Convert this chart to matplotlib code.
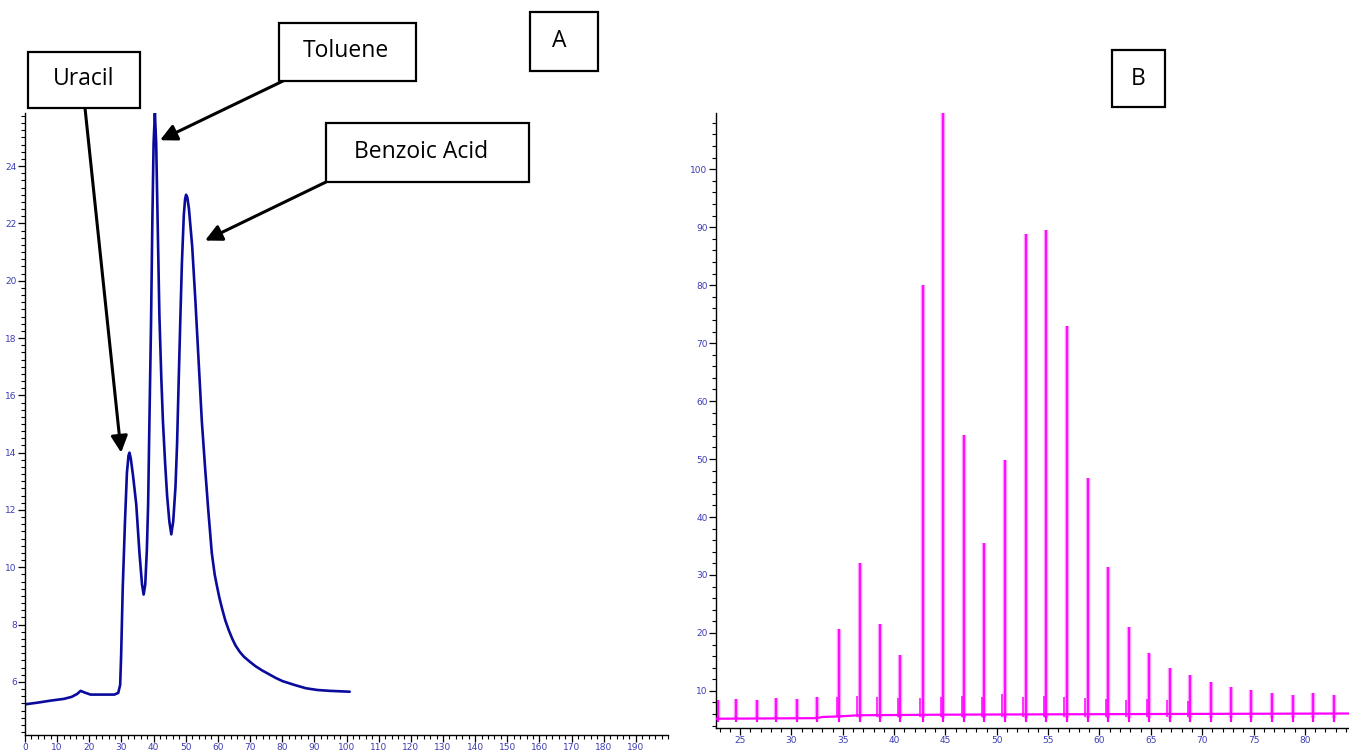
import matplotlib.pyplot as plt
from matplotlib.patches import Rectangle
from matplotlib.ticker import MultipleLocator

W, H = 1349, 756

# --- panel A: chromatogram (time, signal) ---
trace_a_t = [0.0, 4.0, 8.0, 12.1, 14.5, 16.2, 17.3, 18.6, 20.4, 24.0, 27.8, 29.0, 29.6,
             29.9, 30.4, 31.1, 31.7, 32.2, 32.5, 32.9, 33.6, 34.6, 35.6, 36.4, 36.9,
             37.4, 37.9, 38.3, 38.7, 39.2, 39.6, 40.0, 40.4, 40.8, 41.3, 41.8, 42.4,
             42.9, 43.6, 44.2, 44.9, 45.5, 46.1, 46.8, 47.3, 47.8, 48.3, 48.8, 49.4,
             49.8, 50.1, 50.5, 51.0, 52.0, 53.0, 54.0, 55.0, 56.0, 57.0, 58.1, 59.0,
             59.7, 60.5, 61.3, 62.3, 63.4, 64.5, 65.5, 66.8, 68.1, 70.0, 71.7, 73.8,
             75.9, 78.0, 80.1, 83.7, 87.4, 91.0, 94.8, 101.0]
trace_a_y = [5.22, 5.28, 5.35, 5.41, 5.48, 5.58, 5.69, 5.63, 5.56, 5.56, 5.56, 5.62, 5.9,
             6.92, 9.28, 11.6, 13.3, 13.9, 14.0, 13.8, 13.2, 12.2, 10.5, 9.4, 9.05,
             9.4, 10.6, 12.2, 15.1, 18.5, 22.0, 24.8, 25.85, 24.8, 21.8, 18.8, 16.6,
             15.1, 13.6, 12.5, 11.6, 11.15, 11.6, 12.8, 14.3, 16.5, 18.6, 20.6, 22.3,
             22.85, 23.0, 22.9, 22.5, 21.2, 19.3, 17.2, 15.1, 13.5, 12.0, 10.5, 9.75,
             9.35, 8.92, 8.56, 8.15, 7.8, 7.5, 7.27, 7.05, 6.88, 6.7, 6.55, 6.4,
             6.27, 6.14, 6.03, 5.9, 5.78, 5.72, 5.69, 5.66]

# labelled peaks in panel A: name, tip of arrow (time, signal)
labels_a = ["Uracil", "Toluene", "Benzoic Acid"]
tips_a = [(29.9, 14.0), (42.0, 24.9), (56.0, 21.4)]

# --- panel B: oligomer ladder, peak apex times and heights ---
peak_t = [22.8, 24.6, 26.6, 28.5, 30.5, 32.5, 34.65, 36.65, 38.6, 40.6, 42.8, 44.8,
          46.85, 48.8, 50.8, 52.8, 54.8, 56.8, 58.85, 60.85, 62.85, 64.85, 66.85,
          68.85, 70.85, 72.85, 74.8, 76.8, 78.8, 80.8, 82.8]
peak_h = [8.5, 8.6, 8.4, 8.8, 8.6, 9.0, 20.7, 32.1, 21.6, 16.2, 80.0, 112.0,
          54.2, 35.6, 49.8, 88.8, 89.5, 72.9, 46.7, 31.4, 21.0, 16.6, 14.0,
          12.8, 11.6, 10.7, 10.2, 9.7, 9.3, 9.7, 9.3]
# small shoulder eluting just ahead of each main peak
shoulder_t = [34.4, 36.4, 38.35, 40.35, 42.55, 44.55, 46.6, 48.55, 50.55, 52.55,
              54.55, 56.55, 58.6, 60.6, 62.6, 64.6, 66.6, 68.6]
shoulder_h = [9.0, 9.2, 8.9, 8.8, 8.7, 9.0, 9.2, 9.0, 9.5, 9.0, 9.1, 8.9, 8.8, 8.6,
              8.4, 8.6, 8.5, 8.3]
baseline_t = [22.65, 32.5, 33.0, 34.6, 36.6, 44.8, 62.9, 84.3]
baseline_y = [5.2, 5.3, 5.5, 5.6, 5.8, 5.9, 6.0, 6.1]

label_col = '#3c3cb4'
tick_font = ['Liberation Sans Narrow', 'DejaVu Sans']


def px_rect(x0, y0, x1, y1):
    # pixel box (top-left origin) -> figure fraction [left, bottom, width, height]
    return [x0 / W, 1 - y1 / H, (x1 - x0) / W, (y1 - y0) / H]


def style_axis(ax):
    for s in ('top', 'right'):
        ax.spines[s].set_visible(False)
    for s in ('left', 'bottom'):
        ax.spines[s].set_linewidth(1.0)
    ax.tick_params(which='major', direction='out', length=5, width=0.9,
                   labelsize=6.5, labelcolor=label_col, pad=1)
    ax.tick_params(which='minor', direction='out', length=3, width=0.8)
    for lab in ax.get_xticklabels() + ax.get_yticklabels():
        lab.set_family(tick_font)


fig = plt.figure(figsize=(W / 100, H / 100), dpi=100)
fig.set_facecolor('white')

# panel A
axA = fig.add_axes(px_rect(25, 113, 668, 735))
axA.plot(trace_a_t, trace_a_y, color='#0a0a9c', lw=1.9,
         solid_joinstyle='round', solid_capstyle='round')
axA.set_xlim(0, 200)
axA.set_ylim(4.15, 25.85)
axA.xaxis.set_minor_locator(MultipleLocator(2))
axA.yaxis.set_minor_locator(MultipleLocator(0.25))
axA.set_xticks(range(0, 200, 10))
axA.set_yticks(range(6, 26, 2))
style_axis(axA)

# panel B
axB = fig.add_axes(px_rect(716, 113, 1349, 728))
axB.plot(baseline_t, baseline_y, color='#ff00ff', lw=1.6, zorder=3)
axB.vlines(peak_t, [5.4] * len(peak_t), peak_h, color='#ff9cff', lw=3.2, zorder=2)
axB.vlines(peak_t, [5.4] * len(peak_t), peak_h, color='#ff00ff', lw=1.3, zorder=3)
axB.vlines(peak_t, [4.6] * len(peak_t), [5.6] * len(peak_t), color='#ff00ff', lw=1.6, zorder=3)
axB.vlines(shoulder_t, [5.5] * len(shoulder_t), shoulder_h, color='#ff00ff', lw=1.1, zorder=3)
axB.set_xlim(22.65, 84.3)
axB.set_ylim(3.6, 109.7)
axB.xaxis.set_minor_locator(MultipleLocator(1))
axB.yaxis.set_minor_locator(MultipleLocator(2))
axB.set_xticks(range(25, 85, 5))
axB.set_yticks(range(10, 110, 10))
style_axis(axB)

# text boxes
boxes = {
    "Uracil": ((28, 52, 140, 108), (84, 79)),
    "Toluene": ((279, 23, 416, 81), (346, 51)),
    "Benzoic Acid": ((326, 123, 529, 182), (421, 152)),
    "A": ((530, 12, 598, 71), (559, 41)),
    "B": ((1112, 50, 1165, 107), (1138, 79)),
}
for name, ((x0, y0, x1, y1), (tx, ty)) in boxes.items():
    l, b, w, h = px_rect(x0, y0, x1, y1)
    fig.add_artist(Rectangle((l, b), w, h, transform=fig.transFigure,
                             facecolor='white', edgecolor='black', lw=1.6, zorder=5))
    fig.text(tx / W, 1 - ty / H, name, ha='center', va='center', fontsize=16.5,
             family=['Open Sans', 'DejaVu Sans'], zorder=6)

# arrows from the boxes to the peaks
starts = [(85, 108), (283, 81), (326, 182)]
for (sx, sy), tip in zip(starts, tips_a):
    axA.annotate('', xy=tip, xycoords='data',
                 xytext=(sx / W, 1 - sy / H), textcoords='figure fraction',
                 annotation_clip=False,
                 arrowprops=dict(arrowstyle='-|>,head_length=1.0,head_width=0.5',
                                 color='black', lw=2.2, shrinkA=0, shrinkB=0))

fig.savefig('out.png', dpi=100)
